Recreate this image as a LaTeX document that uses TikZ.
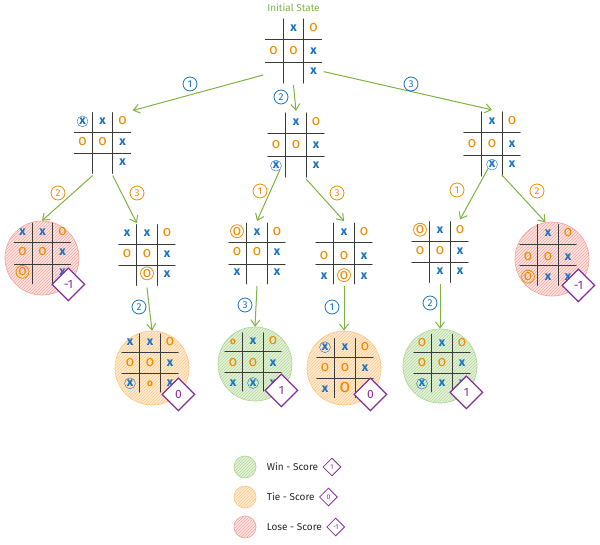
\documentclass[tikz,border=0pt]{standalone}
\usepackage{fontspec}
\setmainfont{Fira Sans}
\usetikzlibrary{
  arrows.meta,
  positioning,
  shapes.geometric,
  matrix,
  calc,
  patterns
}
\definecolor{xblue}{HTML}{1971C2}
\definecolor{oorange}{HTML}{F08C00}
\definecolor{edgegreen}{HTML}{7CB342}
\definecolor{scorepurple}{HTML}{862E9C}
\definecolor{gridgray}{HTML}{3A3A3A}
\definecolor{winfill}{HTML}{E6F3DA}
\definecolor{winline}{HTML}{B2D89A}
\definecolor{tiefill}{HTML}{FFEDD5}
\definecolor{tieline}{HTML}{FFC888}
\definecolor{losefill}{HTML}{FFE6E3}
\definecolor{loseline}{HTML}{F5A8A2}

\begin{document}
\begin{tikzpicture}[
  x=1pt, y=-1pt,
  board/.style={
    matrix of nodes, nodes in empty cells, inner sep=0pt,
    column sep=0pt, row sep=0pt,
    nodes={minimum size=20pt, inner sep=0pt, text=xblue, font=\fontsize{12.5}{12.5}\selectfont\bfseries},
  },
  om/.style={text=oorange, font=\fontsize{15}{15}\selectfont},
  osmall/.style={om, font=\fontsize{10}{10}\selectfont\bfseries},
  obig/.style={om, font=\fontsize{19}{19}\selectfont},
  xnew/.style={circle, draw=xblue, minimum size=0pt, inner sep=0.6pt},
  onew/.style={om, circle, draw=oorange, thick, minimum size=0pt, inner sep=0.3pt},
  grid/.style={draw=gridgray, line width=0.9pt, line cap=round, shorten <=2pt, shorten >=2pt},
  arrow/.style={draw=edgegreen, line width=1pt, -{Straight Barb[length=6pt, width=9pt]}},
  xnum/.style={circle, draw=xblue, text=xblue, thick, minimum size=14pt, inner sep=0pt,
    font=\fontsize{10}{10}\selectfont},
  onum/.style={xnum, draw=oorange, text=oorange},
  scorebg/.style={circle, minimum size=74pt, line width=0.7pt},
  win/.style={scorebg, fill=winfill, draw=winline,
    postaction={pattern=north east lines, pattern color=winline}},
  tie/.style={scorebg, fill=tiefill, draw=tieline,
    postaction={pattern=north east lines, pattern color=tieline}},
  lose/.style={scorebg, fill=losefill, draw=loseline,
    postaction={pattern=north east lines, pattern color=loseline}},
  score/.style={diamond, draw=scorepurple, fill=white, text=scorepurple, line width=1.2pt,
    minimum size=33pt, inner sep=0pt, font=\fontsize{12}{12}\selectfont},
  legendtext/.style={font=\fontsize{10}{10}\selectfont, text=black!85},
]
\useasboundingbox (0,0) rectangle (600,544);

% result circles
\node[lose] (bg11) at (42,258) {};
\node[lose] (bg32) at (552,259) {};
\node[tie] (bg121) at (152,368) {};
\node[win] (bg211) at (255,364) {};
\node[tie] (bg221) at (344,368) {};
\node[win] (bg311) at (440,366) {};

% boards
\matrix (root) [board] at (293.5,51) {
           & x        & |[om]| o \\
  |[om]| o & |[om]| o & x        \\
           &          & x        \\
};
\node[above=2pt of root, text=edgegreen, font=\fontsize{10}{10}\selectfont] (title) {Initial State};

\matrix (m1) [board] at (102.5,143) {
  |[xnew]| x & x        & |[om]| o \\
  |[om]| o   & |[om]| o & x        \\
             &          & x        \\
};
\matrix (m2) [board] at (296,145) {
             & x        & |[om]| o \\
  |[om]| o   & |[om]| o & x        \\
  |[xnew]| x &          & x        \\
};
\matrix (m3) [board] at (492,144) {
           & x          & |[om]| o \\
  |[om]| o & |[om]| o   & x        \\
           & |[xnew]| x & x        \\
};

\matrix (m11) [board] at (42.5,253.5) {
  x          & x        & |[om]| o \\
  |[om]| o   & |[om]| o & x        \\
  |[onew]| o &          & x        \\
};
\matrix (m12) [board] at (147,255) {
  x        & x          & |[om]| o \\
  |[om]| o & |[om]| o   & x        \\
           & |[onew]| o & x        \\
};
\matrix (m21) [board] at (257,253.5) {
  |[onew]| o & x        & |[om]| o \\
  |[om]| o   & |[om]| o & x        \\
  x          &          & x        \\
};
\matrix (m22) [board] at (344,253.5) {
           & x          & |[om]| o \\
  |[om]| o & |[om]| o   & x        \\
  x        & |[onew]| o & x        \\
};
\matrix (m31) [board] at (440,252) {
  |[onew]| o & x        & |[om]| o \\
  |[om]| o   & |[om]| o & x        \\
             & x        & x        \\
};
\matrix (m32) [board] at (548,255) {
             & x        & |[om]| o \\
  |[om]| o   & |[om]| o & x        \\
  |[onew]| o & x        & x        \\
};

\matrix (m121) [board] at (150,363) {
  x          & x            & |[om]| o \\
  |[om]| o   & |[om]| o     & x        \\
  |[xnew]| x & |[osmall]| o & x        \\
};
\matrix (m211) [board] at (253,362) {
  |[osmall]| o & x          & |[om]| o \\
  |[om]| o     & |[om]| o   & x        \\
  x            & |[xnew]| x & x        \\
};
\matrix (m221) [board] at (345,368) {
  |[xnew]| x & x          & |[om]| o \\
  |[om]| o   & |[om]| o   & x        \\
  x          & |[obig]| o & x        \\
};
\matrix (m311) [board] at (442,363) {
  |[om]| o   & x        & |[om]| o \\
  |[om]| o   & |[om]| o & x        \\
  |[xnew]| x & x        & x        \\
};

% grid lines
\foreach \m in {root,m1,m2,m3,m11,m12,m21,m22,m31,m32,m121,m211,m221,m311} {
  \draw[grid] ($(\m.north west)!1/3!(\m.north east)$) -- ($(\m.south west)!1/3!(\m.south east)$);
  \draw[grid] ($(\m.north west)!2/3!(\m.north east)$) -- ($(\m.south west)!2/3!(\m.south east)$);
  \draw[grid] ($(\m.north west)!1/3!(\m.south west)$) -- ($(\m.north east)!1/3!(\m.south east)$);
  \draw[grid] ($(\m.north west)!2/3!(\m.south west)$) -- ($(\m.north east)!2/3!(\m.south east)$);
}

% arrows
\draw[arrow] (root-3-1.west) -- (m1.north east);
\draw[arrow] (root.south) -- (m2.north);
\draw[arrow] (root-3-3.east) -- (m3.north);
\draw[arrow] (m1-3-1.south east) -- (bg11.north);
\draw[arrow] (m1-3-2.south east) -- (m12-1-2.north west);
\draw[arrow] (m2-3-1.south east) -- (m21.north);
\draw[arrow] (m2-3-2.south east) -- (m22.north);
\draw[arrow] (m3-3-2.south west) -- (m31-1-3.north);
\draw[arrow] (m3-3-3.south west) -- (bg32.100);
\draw[arrow] (m12.south) -- (bg121.north);
\draw[arrow] (m21.south) -- (bg211.north);
\draw[arrow] (m22.south) -- (bg221.north);
\draw[arrow] (m31.south) -- (bg311.north);

% move numbers
\node[xnum] (n1) at (190,84) {1};
\node[xnum] (n2) at (281,97) {2};
\node[xnum] (n3) at (411,84) {3};
\node[onum] (n11) at (58,193) {2};
\node[onum] (n12) at (137,193) {3};
\node[onum] (n21) at (260,191) {1};
\node[onum] (n22) at (337,193) {3};
\node[onum] (n31) at (457,190) {1};
\node[onum] (n32) at (537,191) {2};
\node[xnum] (n121) at (139,307) {2};
\node[xnum] (n211) at (245,305) {3};
\node[xnum] (n221) at (332,307) {1};
\node[xnum] (n311) at (430,303) {2};

% scores
\node[score] (s11) at (bg11.south east) {-1};
\node[score] (s32) at (bg32.south east) {-1};
\node[score] (s121) at (bg121.south east) {0};
\node[score] (s211) at (bg211.south east) {1};
\node[score] (s221) at (bg221.south east) {0};
\node[score] (s311) at (bg311.south east) {1};

% legend
\node[win, minimum size=22pt] (lwin) at (245,467) {};
\node[tie, minimum size=22pt] (ltie) at (245,497) {};
\node[lose, minimum size=22pt] (llose) at (245,527) {};
\node[legendtext, right=7pt of lwin] (twin) {Win - Score};
\node[legendtext, right=7pt of ltie] (ttie) {Tie - Score};
\node[legendtext, right=7pt of llose] (tlose) {Lose - Score};
\node[score, minimum size=18pt, line width=0.8pt, font=\fontsize{7}{7}\selectfont, right=1pt of twin] (dwin) {1};
\node[score, minimum size=18pt, line width=0.8pt, font=\fontsize{7}{7}\selectfont, right=1pt of ttie] (dtie) {0};
\node[score, minimum size=18pt, line width=0.8pt, font=\fontsize{7}{7}\selectfont, right=1pt of tlose] (dlose) {-1};

\end{tikzpicture}
\end{document}
